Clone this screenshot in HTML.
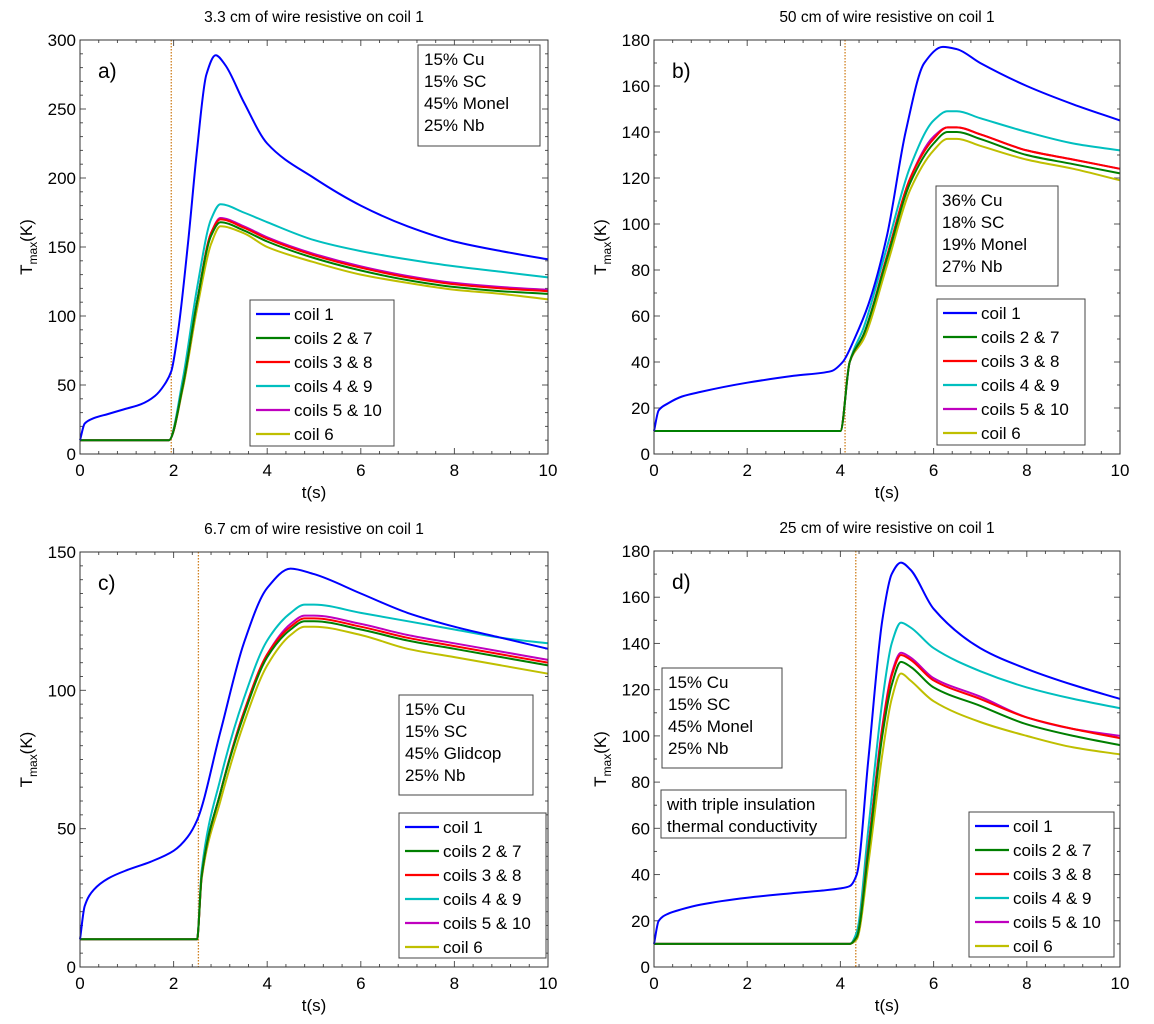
<!DOCTYPE html>
<html><head><meta charset="utf-8">
<style>
html,body{margin:0;padding:0;background:#fff;}
svg{display:block;font-family:"Liberation Sans",sans-serif;}
</style></head>
<body>
<svg id="fig" width="1154" height="1024" viewBox="0 0 1154 1024" xmlns="http://www.w3.org/2000/svg"></svg>
<script>
// ---------- data ----------
const seriesNames = ["coil 1","coils 2 & 7","coils 3 & 8","coils 4 & 9","coils 5 & 10","coil 6"];
const seriesColors = ["#0000ff","#007f00","#ff0000","#00bfbf","#bf00bf","#bfbf00"];

// Panel a
const aT1 = [0,0.1,0.3,0.6,1,1.3,1.6,1.8,1.95,2.1,2.3,2.5,2.7,2.9,3.1,3.5,4,5,6,7,8,9,10];
const aCoil1 = [10,22,26,29,33,36,42,50,60,90,150,220,275,289,282,255,225,200,180,165,154,147,141];
const aT2 = [0,1.9,2.2,2.5,2.8,3.0,3.5,4,5,6,7,8,9,10];
const aCoil27 = [10,10,50,110,158,168,162,154,142,133,126,121,118,116];
const aCoil38 = [10,10,50,110,160,170,164,156,144,135,128,123,120,118];
const aCoil49 = [10,10,55,120,170,181,175,168,155,147,141,136,132,128];
const aCoil510 = [10,10,50,110,160,171,165,157,145,136,129,124,121,119];
const aCoil6 = [10,10,48,105,152,165,160,150,139,130,124,119,116,112];

// Panel b
const bT1 = [0,0.1,0.3,0.6,1,2,3,3.8,4.05,4.3,4.6,5,5.4,5.8,6.2,6.5,7,8,9,10];
const bCoil1 = [10,19,22,25,27,31,34,36,40,50,65,95,140,170,177,176,170,160,152,145];
const bT2 = [0,4.0,4.2,4.5,5,5.5,6,6.3,6.5,7,8,9,10];
const bCoil27 = [10,10,40,52,85,118,135,140,140,137,130,126,122];
const bCoil38 = [10,10,40,52,86,120,137,142,142,139,132,128,124];
const bCoil49 = [10,10,40,55,90,125,145,149,149,146,140,135,132];
const bCoil510 = [10,10,40,52,86,120,138,142,142,139,132,128,124];
const bCoil6 = [10,10,40,50,82,115,132,137,137,134,128,124,119];

// Panel c
const cT1 = [0,0.1,0.3,0.6,1,1.5,2,2.3,2.5,3,3.5,4,4.5,5,6,7,8,9,10];
const cCoil1 = [10,22,28,32,35,38,42,47,53,85,117,137,144,142,135,128,123,119,115];
const cT2 = [0,2.5,2.6,3,3.5,4,4.5,4.8,5,6,7,8,9,10];
const cCoil27 = [10,10,33,63,91,112,122,125,125,122,118,115,112,109];
const cCoil38 = [10,10,33,63,92,113,123,126,126,123,119,116,113,110];
const cCoil49 = [10,10,35,68,97,118,128,131,131,128,125,122,119,117];
const cCoil510 = [10,10,33,63,92,113,124,127,127,124,120,117,114,111];
const cCoil6 = [10,10,32,60,88,109,120,123,123,120,115,112,109,106];

// Panel d
const dT1 = [0,0.1,0.3,0.6,1,2,3,4,4.2,4.35,4.6,4.9,5.1,5.3,5.5,6,7,8,9,10];
const dCoil1 = [10,20,23,25,27,30,32,34,35,40,90,150,170,175,172,155,138,129,122,116];
const dT2 = [0,4.2,4.35,4.6,4.9,5.1,5.3,5.5,6,7,8,9,10];
const dCoil27 = [10,10,13,50,100,122,132,130,121,113,105,100,96];
const dCoil38 = [10,10,13,52,103,126,135,133,124,116,108,103,99];
const dCoil49 = [10,10,15,60,115,140,149,147,138,128,121,116,112];
const dCoil510 = [10,10,13,52,104,127,136,134,125,117,108,103,100];
const dCoil6 = [10,10,12,45,92,116,127,124,115,106,100,95,92];

const xTicks = [0,2,4,6,8,10];
const aYTicks = [0,50,100,150,200,250,300];
const bYTicks = [0,20,40,60,80,100,120,140,160,180];
const cYTicks = [0,50,100,150];
const dYTicks = [0,20,40,60,80,100,120,140,160,180];

const panels = [
 {id:"a",title:"3.3 cm of wire resistive on coil 1",L:80,R:548,T:40,B:454,ymax:300,yt:aYTicks,ym:10,trig:1.95,
  t1:aT1,s1:aCoil1,t2:aT2,s:[aCoil27,aCoil38,aCoil49,aCoil510,aCoil6],
  boxes:[{x:418,y:45,w:122,h:101,lines:["15% Cu","15% SC","45% Monel","25% Nb"]}],leg:{x:250,y:300,w:144,h:146}},
 {id:"b",title:"50 cm of wire resistive on coil 1",L:654,R:1120,T:40,B:454,ymax:180,yt:bYTicks,ym:10,trig:4.1,
  t1:bT1,s1:bCoil1,t2:bT2,s:[bCoil27,bCoil38,bCoil49,bCoil510,bCoil6],
  boxes:[{x:936,y:186,w:122,h:100,lines:["36% Cu","18% SC","19% Monel","27% Nb"]}],leg:{x:937,y:299,w:148,h:146}},
 {id:"c",title:"6.7 cm of wire resistive on coil 1",L:80,R:548,T:552,B:967,ymax:150,yt:cYTicks,ym:5,trig:2.53,
  t1:cT1,s1:cCoil1,t2:cT2,s:[cCoil27,cCoil38,cCoil49,cCoil510,cCoil6],
  boxes:[{x:399,y:695,w:134,h:100,lines:["15% Cu","15% SC","45% Glidcop","25% Nb"]}],leg:{x:399,y:813,w:147,h:145}},
 {id:"d",title:"25 cm of wire resistive on coil 1",L:654,R:1120,T:551,B:967,ymax:180,yt:dYTicks,ym:10,trig:4.33,
  t1:dT1,s1:dCoil1,t2:dT2,s:[dCoil27,dCoil38,dCoil49,dCoil510,dCoil6],
  boxes:[{x:662,y:668,w:120,h:100,lines:["15% Cu","15% SC","45% Monel","25% Nb"]},
         {x:661,y:790,w:185,h:48,lines:["with triple insulation","thermal conductivity"]}],leg:{x:969,y:812,w:145,h:145}}
];

const NS="http://www.w3.org/2000/svg";
const svg=document.getElementById("fig");
function mk(tag,attrs,parent){const e=document.createElementNS(NS,tag);for(const k in attrs)e.setAttribute(k,attrs[k]);(parent||svg).appendChild(e);return e;}

// monotone cubic path (Fritsch-Carlson) in pixel space
function monoPath(xs,ys){
  const n=xs.length;const dx=[],m=[],tg=new Array(n);
  for(let i=0;i<n-1;i++){dx.push(xs[i+1]-xs[i]);m.push((ys[i+1]-ys[i])/(xs[i+1]-xs[i]));}
  tg[0]=m[0];tg[n-1]=m[n-2];
  for(let i=1;i<n-1;i++){ if(m[i-1]*m[i]<=0) tg[i]=0; else { const w1=2*dx[i]+dx[i-1],w2=dx[i]+2*dx[i-1]; tg[i]=(w1+w2)/(w1/m[i-1]+w2/m[i]); } }
  let d="M"+xs[0].toFixed(1)+","+ys[0].toFixed(1);
  for(let i=0;i<n-1;i++){const h=dx[i]/3;
    d+=" C"+(xs[i]+h).toFixed(1)+","+(ys[i]+tg[i]*h).toFixed(1)+" "+(xs[i+1]-h).toFixed(1)+","+(ys[i+1]-tg[i+1]*h).toFixed(1)+" "+xs[i+1].toFixed(1)+","+ys[i+1].toFixed(1);}
  return d;
}

panels.forEach(p=>{
  const g=mk("g",{});
  
  
  const sx=v=>p.L+(v/10)*(p.R-p.L);
  const sy=v=>p.B-(v/p.ymax)*(p.B-p.T);
  const ti=mk("text",{x:(p.L+p.R)/2,y:p.T-18,"text-anchor":"middle","font-size":"15.5",fill:"#000"},g);
  ti.textContent=p.title;
  
  
  const tk=mk("g",{stroke:"#555","stroke-width":"1"},g);
  
  
  for(let i=0;i<=25;i++){const v=i*0.4;const X=sx(v);const len=(Math.abs(v/2-Math.round(v/2))<1e-6)?6:3;
    mk("line",{x1:X,y1:p.B,x2:X,y2:p.B-len},tk);mk("line",{x1:X,y1:p.T,x2:X,y2:p.T+len},tk);}
  for(let v=0;v<=p.ymax+1e-6;v+=p.ym){const Y=sy(v);const len=p.yt.includes(v)?6:3;
    mk("line",{x1:p.L,y1:Y,x2:p.L+len,y2:Y},tk);mk("line",{x1:p.R,y1:Y,x2:p.R-len,y2:Y},tk);}
  xTicks.forEach(v=>{const t=mk("text",{x:sx(v),y:p.B+22,"text-anchor":"middle","font-size":"17"},g);t.textContent=v;
    
    });
  p.yt.forEach(v=>{const t=mk("text",{x:p.L-4,y:sy(v)+6,"text-anchor":"end","font-size":"17"},g);t.textContent=v;
    
    });
  const xl=mk("text",{x:(p.L+p.R)/2,y:p.B+44,"text-anchor":"middle","font-size":"17"},g);xl.textContent="t(s)";
  
  
  const yl=mk("text",{transform:`translate(${p.L-48},${(p.T+p.B)/2}) rotate(-90)`,"text-anchor":"middle","font-size":"17"},g);
  yl.innerHTML='T<tspan font-size="12" dy="5">max</tspan><tspan dy="-5">(K)</tspan>';
  
  
  const tr=mk("line",{x1:sx(p.trig),y1:p.T,x2:sx(p.trig),y2:p.B,stroke:"#d08020","stroke-width":"1.3","stroke-dasharray":"1.5,1.5"},g);
  
  
  const all=[{t:p.t1,v:p.s1,i:0}].concat(p.s.map((v,k)=>({t:p.t2,v:v,i:k+1})));
  all.slice().reverse().forEach(s=>{
    const d=monoPath(s.t.map(sx),s.v.map(sy));
    const pl=mk("path",{d:d,fill:"none",stroke:seriesColors[s.i],"stroke-width":"2","stroke-linejoin":"round"},g);
    
    
  });
  const lb=mk("text",{x:p.L+18,y:p.T+38,"font-size":"21"},g);lb.textContent=p.id+")";
  
  
  p.boxes.forEach(b=>{
    const r=mk("rect",{x:b.x,y:b.y,width:b.w,height:b.h,fill:"#fff",stroke:"#444","stroke-width":"1"},g);
    
    
    b.lines.forEach((s,k)=>{const t=mk("text",{x:b.x+6,y:b.y+20+k*22,"font-size":"17"},g);t.textContent=s;
      
      });
  });
  const L=p.leg;
  const lr=mk("rect",{x:L.x,y:L.y,width:L.w,height:L.h,fill:"#fff",stroke:"#444","stroke-width":"1"},g);
  
  
  seriesNames.forEach((n,k)=>{const y=L.y+14+k*24;
    const ln=mk("line",{x1:L.x+6,y1:y,x2:L.x+40,y2:y,stroke:seriesColors[k],"stroke-width":"2.2"},g);
    
    
    const t=mk("text",{x:L.x+44,y:y+6,"font-size":"17"},g);t.textContent=n;
    
    });
  const ax=mk("rect",{x:p.L,y:p.T,width:p.R-p.L,height:p.B-p.T,fill:"none",stroke:"#333","stroke-width":"1"},g);
  
  
});
</script>
</body></html>
